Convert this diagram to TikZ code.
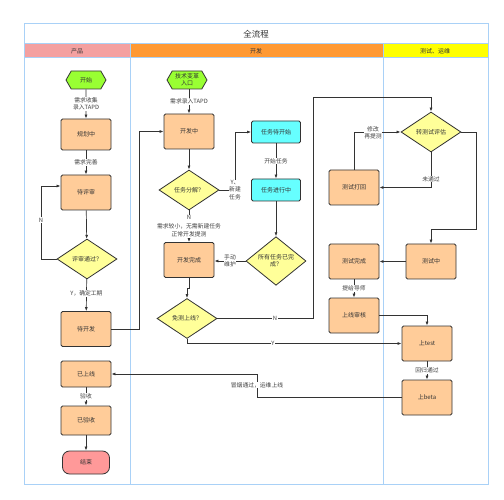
\documentclass[tikz,border=0pt]{standalone}
\usepackage{fontspec}
\setmainfont{Noto Sans CJK SC}
\usetikzlibrary{shapes.geometric,shapes.symbols,arrows.meta,calc}
\definecolor{lane}{HTML}{A9D1F7}
\definecolor{peach}{HTML}{FFCC99}
\definecolor{lime}{HTML}{99FF33}
\definecolor{cyanb}{HTML}{66FFFF}
\definecolor{yel}{HTML}{FFFF99}
\definecolor{pinkend}{HTML}{FF9999}
\definecolor{hprod}{HTML}{F4A0A0}
\definecolor{hdev}{HTML}{FF9933}
\definecolor{htest}{HTML}{FFFF00}
\definecolor{edge}{HTML}{333333}
\tikzset{
  box/.style={rectangle,draw=edge,fill=peach,rounded corners=1.5pt,line width=0.8pt,minimum width=50pt,minimum height=35pt,inner sep=1pt,font=\fontsize{6}{7}\selectfont,text=black!80},
  cbox/.style={box,fill=cyanb,minimum width=49pt,minimum height=22pt},
  dia/.style={diamond,draw=edge,fill=yel,line width=0.8pt,minimum width=60pt,minimum height=40pt,inner sep=0pt,font=\fontsize{6}{7}\selectfont,align=center,text=black!80},
  hexa/.style={signal,signal to=west and east,signal pointer angle=120,draw=edge,fill=lime,line width=0.8pt,minimum width=40pt,minimum height=18pt,inner sep=0.5pt,font=\fontsize{6}{7}\selectfont,align=center,text=black!80},
  endn/.style={rectangle,rounded corners=7pt,draw=edge,fill=pinkend,line width=0.8pt,minimum width=47pt,minimum height=23pt,font=\fontsize{6}{7}\selectfont,text=black!80},
  arr/.style={draw=edge,line width=0.7pt,-{Latex[length=4pt,width=3pt]}},
  lbl/.style={fill=white,inner sep=0.6pt,font=\fontsize{5.8}{7.5}\selectfont,align=center,text=black!75},
  hdr/.style={font=\fontsize{6}{7}\selectfont,text=black!80}
}
\begin{document}
\begin{tikzpicture}[x=1pt,y=-1pt]
\useasboundingbox (0,0) rectangle (504,500);
% lanes
\fill[hprod] (24,44) rectangle (130,58);
\fill[hdev] (130,44) rectangle (383,58);
\fill[htest] (383,44) rectangle (488,58);
\draw[lane,line width=1pt] (24,24) rectangle (488,484);
\draw[lane,line width=1pt] (24,44) -- (488,44);
\draw[lane,line width=1pt] (24,58) -- (488,58);
\draw[lane,line width=1pt] (130,44) -- (130,484);
\draw[lane,line width=1pt] (383,44) -- (383,484);
\node[font=\fontsize{8.5}{10}\selectfont,text=black!80] (title) at (256,34) {全流程};
\node[hdr] (h1) at (77,51) {产品};
\node[hdr] (h2) at (256,51) {开发};
\node[hdr] (h3) at (435,51) {测试、运维};
% product lane
\node[hexa] (start) at (86,80) {开始};
\node[box,minimum height=31pt] (plan) at (86,134.5) {规划中};
\node[box] (review) at (86,192.5) {待评审};
\node[dia] (pass) at (87,259) {评审通过？};
\node[box] (dkf) at (86,329) {待开发};
\node[box,minimum height=26pt] (ysx) at (86,374) {已上线};
\node[box,minimum height=29pt] (yys) at (86,420.5) {已验收};
\node[endn] (end) at (86,462.5) {结束};
% dev lane
\node[hexa] (tech) at (187,80) {技术变革\\入口};
\node[box] (kfz) at (189,131.5) {开发中};
\node[dia] (rwfj) at (189,190) {任务分解？};
\node[cbox] (rwdks) at (276,132) {任务待开始};
\node[cbox] (rwjxz) at (276,190) {任务进行中};
\node[dia] (syrw) at (276,261) {所有任务已完\\成？};
\node[box] (kfwc) at (189,260) {开发完成};
\node[dia] (mcsx) at (187,318.5) {免测上线？};
% test lane
\node[dia] (zcspg) at (431,132) {转测试评估};
\node[box] (csdh) at (354,187.5) {测试打回};
\node[box] (csz) at (431,261.5) {测试中};
\node[box] (cswc) at (354,261.5) {测试完成};
\node[box] (sxsh) at (354,315.5) {上线审核};
\node[box] (stest) at (427,343.5) {上test};
\node[box] (sbeta) at (427,397.5) {上beta};
\coordinate (n1) at (41,186);
\coordinate (t1) at (313,97);
\coordinate (t2) at (476,229);
\coordinate (t3) at (257,0);
\coordinate (y1) at (235,190);
% edges product
\draw[arr] (start) -- node[lbl,pos=0.5] {需求收集\\录入TAPD} (plan);
\draw[arr] (plan) -- node[lbl] {需求完善} (review);
\draw[arr] (review) -- (pass);
\draw[arr] (pass) -- node[lbl,pos=0.45] {Y，确定工期} (dkf);
\draw[arr] (pass.west) -| (n1) -- (review.west |- n1);
\node[lbl] (nlab) at (41,220) {N};
\draw[arr] (dkf.east) -- ++(28,0) |- (kfz.west);
\draw[arr] (ysx) -- node[lbl] {验收} (yys);
\draw[arr] (yys) -- (end);
% edges dev
\draw[arr] (kfz.north |- tech.south) -- node[lbl] {需求录入TAPD} (kfz.north);
\draw[arr] (kfz) -- (rwfj);
\draw[arr] (rwfj.east) -- (y1) |- (rwdks.west);
\node[lbl] (ylab) at (235,190) {Y、\\新建\\任务};
\draw[arr] (rwdks) -- node[lbl] {开始任务} (rwjxz);
\draw[arr] (rwjxz) -- (syrw);
\draw[arr] (syrw.west) -- node[lbl] {手动\\维护} (syrw.west -| kfwc.east);
\draw[arr] (rwfj) -- node[lbl,pos=0.5,font=\fontsize{5.8}{8.5}\selectfont] {N\\需求较小，无需新建任务\\正常开发提测} (kfwc);
\draw[arr] (kfwc.south) -- ++(0,10) -| (mcsx.north);
\draw[arr] (mcsx.east) -| (t1) -| (zcspg.north);
\node[lbl] (nlab2) at (275,318.5) {N};
\draw[arr] (mcsx.south) |- (stest.west);
\node[lbl] (ylab2) at (273,343.5) {Y};
% edges test
\draw[arr] (zcspg.south) |- (csdh.east);
\node[lbl] (wtg) at (431,179) {未通过};
\draw[arr] (csdh.north) |- (zcspg.west);
\node[lbl] (xglab) at (373,133) {修改\\再提测};
\draw[arr] (zcspg.east) -| (t2) -| (csz.north);
\draw[arr] (csz) -- (cswc);
\draw[arr] (cswc) -- node[lbl] {提给导师} (sxsh);
\draw[arr] (sxsh.east) -| (stest.north);
\draw[arr] (stest) -- node[lbl] {回归通过} (sbeta);
\draw[arr] (sbeta.west) -- (sbeta.west -| t3) |- (ysx.east);
\node[lbl] (mylab) at (257,385) {冒烟通过，运维上线};
\end{tikzpicture}
\end{document}
